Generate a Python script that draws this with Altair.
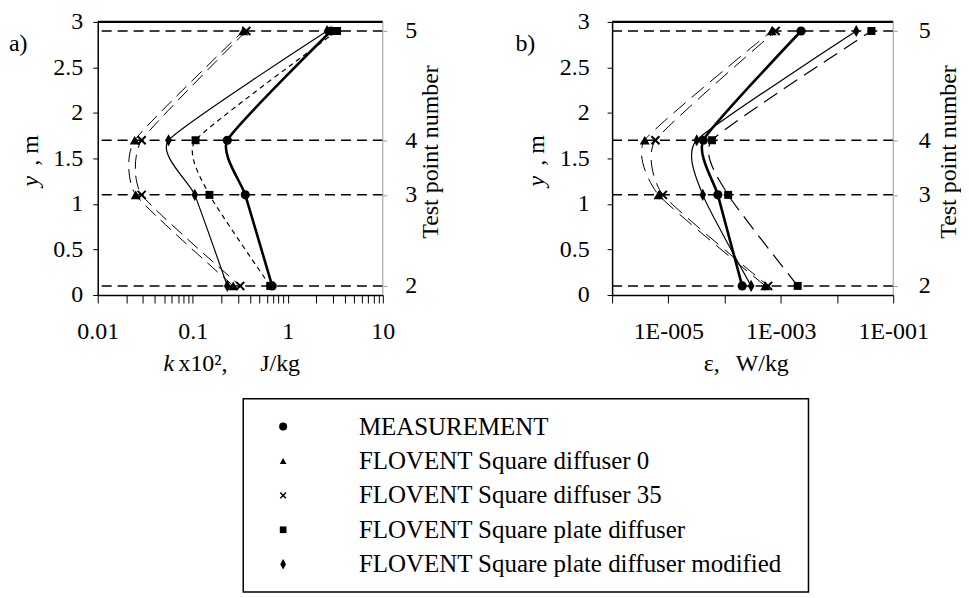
import json
import altair as alt
import pandas as pd

# ---------------- data ----------------
heights = [0.1, 1.1, 1.7, 2.9]          # y, m of the test points
test_points = ['2', '3', '4', '5']       # test point numbers (right axis)

series = [
    'MEASUREMENT',
    'FLOVENT Square diffuser 0',
    'FLOVENT Square diffuser 35',
    'FLOVENT Square plate diffuser',
    'FLOVENT Square  plate diffuser modified',
]

# panel a) k x10^2, J/kg  (values at heights 0.1, 1.1, 1.7, 2.9)
k_meas = [0.685, 0.357, 0.231, 2.85]
k_sq0 = [0.267, 0.0251, 0.0245, 0.34]
k_sq35 = [0.316, 0.029, 0.029, 0.366]
k_plate = [0.653, 0.150, 0.107, 3.3]
k_plate_mod = [0.231, 0.105, 0.0556, 2.59]

# panel b) epsilon, W/kg
e_meas = [2.06e-4, 7.6e-5, 4.2e-5, 2.3e-3]
e_sq0 = [5.3e-4, 6.7e-6, 3.8e-6, 6.9e-4]
e_sq35 = [5.96e-4, 8.0e-6, 5.9e-6, 8.1e-4]
e_plate = [2.0e-3, 1.16e-4, 6.0e-5, 4.1e-2]
e_plate_mod = [2.97e-4, 4.1e-5, 3.2e-5, 2.2e-2]

k_values = [k_meas, k_sq0, k_sq35, k_plate, k_plate_mod]
e_values = [e_meas, e_sq0, e_sq35, e_plate, e_plate_mod]

y_ticks = [0, 0.5, 1, 1.5, 2, 2.5, 3]
k_ticks = [0.01, 0.02, 0.03, 0.04, 0.05, 0.06, 0.07, 0.08, 0.09,
           0.1, 0.2, 0.3, 0.4, 0.5, 0.6, 0.7, 0.8, 0.9,
           1, 2, 3, 4, 5, 6, 7, 8, 9, 10]
k_major = [0.01, 0.1, 1, 10]
k_major_labels = ['0.01', '0.1', '1', '10']
e_ticks = [1e-6, 1e-5, 1e-4, 1e-3, 1e-2, 1e-1]
e_tick_labels = ['', '1E-005', '', '1E-003', '', '1E-001']

# ---------------- styling ----------------
FONT = 'Liberation Serif, Times New Roman, Times, serif'
FS = 24
H = 274

shape_paths = {
    series[0]: 'circle',
    series[1]: 'triangle-up',
    series[2]: 'M-1,-0.7L-0.7,-1L0,-0.3L0.7,-1L1,-0.7L0.3,0L1,0.7L0.7,1L0,0.3L-0.7,1L-1,0.7L-0.3,0Z',
    series[3]: 'square',
    series[4]: 'M0,-1L0.55,0L0,1L-0.55,0Z',
}
plot_sizes = {series[0]: 85, series[1]: 100, series[2]: 90, series[3]: 64, series[4]: 150}
legend_sizes = {series[0]: 64, series[1]: 45, series[2]: 45, series[3]: 45, series[4]: 110}

styles_a = {
    series[0]: dict(strokeWidth=2.6),
    series[1]: dict(strokeWidth=1.0, strokeDash=[14, 7]),
    series[2]: dict(strokeWidth=1.0, strokeDash=[14, 7], strokeDashOffset=6),
    series[3]: dict(strokeWidth=1.2, strokeDash=[5, 4]),
    series[4]: dict(strokeWidth=1.2),
}
styles_b = {
    series[0]: dict(strokeWidth=2.6),
    series[1]: dict(strokeWidth=1.0, strokeDash=[16, 8]),
    series[2]: dict(strokeWidth=1.0, strokeDash=[16, 8], strokeDashOffset=7),
    series[3]: dict(strokeWidth=1.2, strokeDash=[16, 8]),
    series[4]: dict(strokeWidth=1.2),
}

tp_expr = ' : '.join(f"datum.value == {h} ? '{t}'" for h, t in zip(heights, test_points)) + " : ''"
k_expr = ' : '.join(f"datum.value == {v} ? '{t}'" for v, t in zip(k_major, k_major_labels)) + " : ''"
e_expr = json.dumps(e_tick_labels).replace('"', "'") + '[round(log(datum.value)/LN10)+6]'


def txt(text, x, y, italic=False, align='left', baseline='alphabetic', angle=0, size=FS):
    kw = dict(font=FONT, fontSize=size, color='black', align=align, baseline=baseline)
    if italic:
        kw['fontStyle'] = 'italic'
    if angle:
        kw['angle'] = angle
    return alt.Chart(pd.DataFrame({'t': [text]})).mark_text(**kw).encode(
        text='t:N', x=alt.value(x), y=alt.value(y))


def panel(values, styles, xdomain, xaxis, width, letter, letter_x, ylab_pad, ytitle_x,
          rlab_pad, rtitle_x, title_parts):
    yscale = alt.Scale(domain=[0, 3], nice=False, zero=False)
    xscale = alt.Scale(type='log', domain=xdomain, nice=False)
    one = pd.DataFrame({'a': [0]})

    right_axis = alt.Axis(orient='right', values=heights, labelExpr=tp_expr,
                          title='Test point number', titleAngle=270, titleX=rtitle_x,
                          titleY=H / 2 - 7, titleAlign='center', titleBaseline='middle',
                          domain=False, tickColor='#999999', tickSize=4,
                          labelPadding=rlab_pad, labelOverlap=False)
    rules = alt.Chart(pd.DataFrame({'y': heights})).mark_rule(
        color='black', strokeWidth=1.5, strokeDash=[10, 6]).encode(
        y=alt.Y('y:Q', scale=yscale, axis=right_axis))

    top = alt.Chart(one).mark_rule(color='black', strokeWidth=2.2).encode(
        y=alt.YDatum(3, scale=yscale, axis=None))
    right_edge = alt.Chart(one).mark_rule(color='#999999', strokeWidth=1).encode(
        x=alt.XDatum(xdomain[1], scale=xscale, axis=None))

    left_axis = alt.Axis(values=y_ticks, format='~g', title=None, labelPadding=ylab_pad,
                         tickSize=5, domainWidth=1.5, labelOverlap=False)

    layers = [rules, top, right_edge]
    for i, s in enumerate(series):
        df = pd.DataFrame({'x': values[i], 'y': heights})
        layers.append(alt.Chart(df).mark_line(
            interpolate='cardinal', tension=0.5, color='black', **styles[s]).encode(
            x=alt.X('x:Q', scale=xscale, axis=xaxis if i == 0 else None),
            y=alt.Y('y:Q', scale=yscale, axis=left_axis if i == 0 else None),
            order=alt.Order('y:Q')))
    for i, s in enumerate(series):
        df = pd.DataFrame({'x': values[i], 'y': heights})
        layers.append(alt.Chart(df).mark_point(
            shape=shape_paths[s], size=plot_sizes[s], filled=True, color='black',
            opacity=1).encode(
            x=alt.X('x:Q', scale=xscale, axis=None),
            y=alt.Y('y:Q', scale=yscale, axis=None)))

    layers.append(txt(letter, letter_x, 29))
    layers.append(txt('y', ytitle_x, H * 0.583, italic=True, align='center',
                      baseline='middle', angle=270))
    layers.append(txt(', m', ytitle_x, H * 0.471, align='center',
                      baseline='middle', angle=270))
    for (t, x, it) in title_parts:
        layers.append(txt(t, x, H + 76, italic=it))

    return alt.layer(*layers).resolve_axis(x='independent', y='independent').properties(
        width=width, height=H)


axis_a = alt.Axis(values=k_ticks, labelExpr=k_expr, title=None, tickSize=8,
                  labelPadding=17, labelFlush=False, labelOverlap=False, domainWidth=1.5)
axis_b = alt.Axis(values=e_ticks, labelExpr=e_expr, title=None, tickSize=8,
                  labelPadding=17, labelFlush=False, labelOverlap=False, domainWidth=1.5)

left = panel(k_values, styles_a, [0.01, 10], axis_a, 286, 'a)', -89, 10, -67, 18, 48,
             [('k', 66, True), ('x10²,', 81, False), ('J/kg', 163, False)])
right = panel(e_values, styles_b, [1e-6, 1e-1], axis_b, 282, 'b)', -97, 18, -75, 21, 55,
              [('ε,', 92, False), ('W/kg', 124, False)])

top_row = alt.hconcat(left, right, spacing=71)

# ---------------- legend box ----------------
BOX_L, BOX_R, BOX_H = 146, 713, 194
leg_df = pd.DataFrame({'row': list(range(len(series))), 'label': series})
leg_y = alt.Scale(domain=[0, len(series) - 1], range=[28, 166])
frame = alt.Chart(pd.DataFrame({'a': [0]})).mark_rect(
    filled=False, stroke='black', strokeWidth=1.5).encode(
    x=alt.value(BOX_L), x2=alt.value(BOX_R), y=alt.value(0), y2=alt.value(BOX_H))
leg_layers = [frame, alt.Chart(leg_df).mark_text(
    font=FONT, fontSize=25, align='left', baseline='middle', color='black').encode(
    x=alt.value(BOX_L + 116), y=alt.Y('row:Q', scale=leg_y, axis=None), text='label:N')]
for i, s in enumerate(series):
    leg_layers.append(alt.Chart(leg_df[leg_df['row'] == i]).mark_point(
        shape=shape_paths[s], size=legend_sizes[s], filled=True, color='black',
        opacity=1).encode(x=alt.value(BOX_L + 40), y=alt.Y('row:Q', scale=leg_y, axis=None)))
legend = alt.layer(*leg_layers).properties(width=BOX_R + 2, height=BOX_H)

chart = alt.vconcat(top_row, legend, spacing=20).properties(
    padding={'left': 0, 'top': 0, 'right': 0, 'bottom': 0}
).configure(font=FONT).configure_view(stroke='transparent').configure_axis(
    labelFont=FONT, titleFont=FONT, labelFontSize=FS, titleFontSize=FS,
    labelColor='black', titleColor='black', titleFontWeight='normal',
    domainColor='black', tickColor='black', grid=False)

chart.save('out.html', embed_options={'renderer': 'svg', 'actions': False})
